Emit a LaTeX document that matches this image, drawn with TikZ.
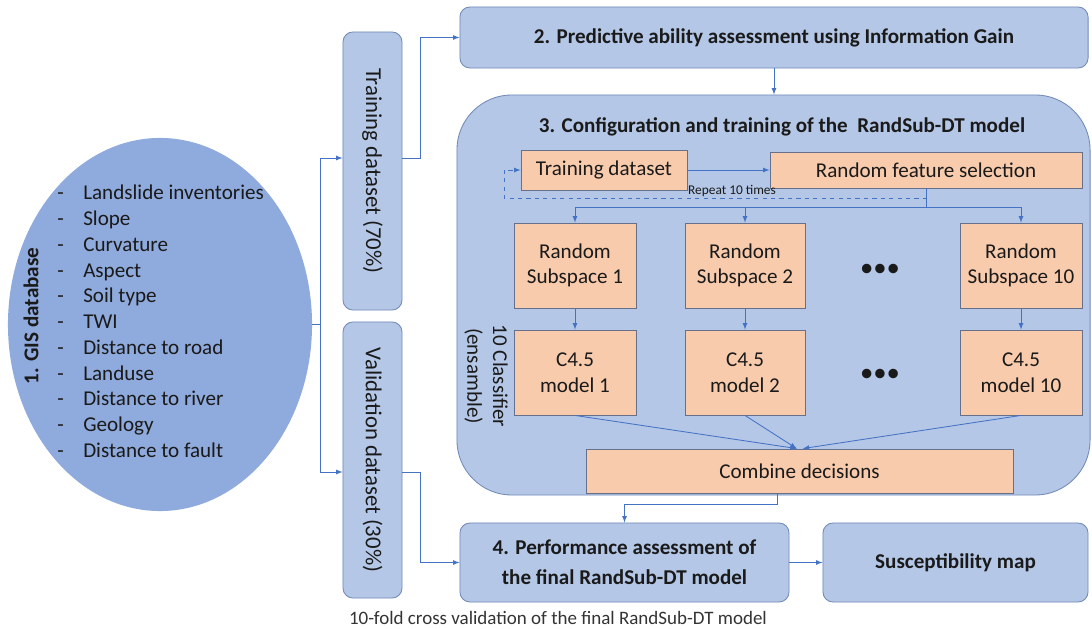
\documentclass[tikz,border=0pt]{standalone}
\usepackage{fontspec}
\setmainfont{Carlito}
\usetikzlibrary{shapes.geometric}
\definecolor{boxfill}{HTML}{B4C7E7}
\definecolor{gisfill}{HTML}{8FAADC}
\definecolor{stepfill}{HTML}{F8CBAD}
\definecolor{boxline}{HTML}{7089B5}
\definecolor{stepline}{HTML}{66708A}
\definecolor{flow}{HTML}{4472C4}
\definecolor{ink}{HTML}{1A1A1A}
\begin{document}
\begin{tikzpicture}[x=0.025cm,y=-0.025cm,>=latex,text=ink,font=\fontsize{15}{18.3}\selectfont]
\tikzset{
  phase/.style={draw=boxline,fill=boxfill,line width=0.6pt,rounded corners=0.25cm,align=center,font=\fontsize{15}{21}\selectfont\bfseries},
  split/.style={draw=boxline,fill=boxfill,line width=0.6pt,rounded corners=0.25cm,minimum width=1.475cm,font=\fontsize{16.2}{19}\selectfont},
  block/.style={draw=stepline,fill=stepfill,line width=0.6pt,align=center,minimum height=2.125cm},
  link/.style={draw=flow,line width=0.6pt}
}
\useasboundingbox (0,0) rectangle (1092,629);

\node[ellipse,fill=gisfill,minimum width=7.6cm,minimum height=9.325cm] (gis) at (160,324.5) {};
\node[rotate=90,font=\fontsize{15}{18}\selectfont\bfseries] (gisname) at (31,316) {1. GIS database};
\node[anchor=west,inner sep=0pt] (factors) at (57,323.5) {\begin{tabular}{@{}p{0.65cm}@{}l@{}}
 -&Landslide inventories\\ -&Slope\\ -&Curvature\\ -&Aspect\\ -&Soil type\\ -&TWI\\
 -&Distance to road\\ -&Landuse\\ -&Distance to river\\ -&Geology\\ -&Distance to fault
 \end{tabular}};

\node[split,minimum height=6.95cm] (train) at (372.5,171) {\rotatebox{-90}{Training dataset (70\%)}};
\node[split,minimum height=6.9cm] (valid) at (372.5,460) {\rotatebox{-90}{Validation dataset (30\%)}};

\node[phase,minimum width=15.7cm,minimum height=1.525cm] (pred) at (774,37.5) {2. Predictive ability assessment using Information Gain};
\node[phase,rounded corners=1.375cm,minimum width=15.825cm,minimum height=10cm] (conf) at (773.5,295) {};
\node[font=\fontsize{15}{18}\selectfont\bfseries] (conftitle) at (782,127) {3. Configuration and training of the \ RandSub-DT model};

\node[block,minimum width=4.15cm,minimum height=1cm] (tds) at (604,170) {Training dataset};
\node[block,minimum width=7.8cm,minimum height=0.9cm] (rfs) at (926,170) {Random feature selection};
\node[font=\fontsize{9.5}{11}\selectfont] (repeat) at (732,191) {Repeat 10 times};

\node[block,minimum width=3.05cm] (sub1) at (575,265.5) {Random\\Subspace 1};
\node[block,minimum width=3cm] (sub2) at (745,265.5) {Random\\Subspace 2};
\node[block,minimum width=3.05cm] (sub10) at (1021,265.5) {Random\\Subspace 10};
\node[block,minimum width=3.05cm] (mod1) at (575,372.5) {C4.5\\model 1};
\node[block,minimum width=3cm] (mod2) at (745,372.5) {C4.5\\model 2};
\node[block,minimum width=3.05cm] (mod10) at (1021,372.5) {C4.5\\model 10};
\node[font=\fontsize{19}{19}\selectfont] (dots1) at (880,270) {\textbullet\textbullet\textbullet};
\node[font=\fontsize{19}{19}\selectfont] (dots2) at (880,375) {\textbullet\textbullet\textbullet};
\node[rotate=-90,align=center] (ens) at (486,376) {10 Classifier\\(ensamble)};
\node[block,minimum width=10.675cm,minimum height=1.1cm] (comb) at (799.5,471) {Combine decisions};

\node[phase,minimum width=8.225cm,minimum height=1.975cm] (perf) at (624.5,562.5) {4. Performance assessment of\\the final RandSub-DT model};
\node[phase,minimum width=6.625cm,minimum height=1.975cm] (smap) at (955.5,562.5) {Susceptibility map};
\node[font=\fontsize{13.5}{16}\selectfont,text=black!80] (note) at (558,618) {10-fold cross validation of the final RandSub-DT model};

\coordinate (gisout) at (320,324.5);
\coordinate (fork) at (926,207);
\coordinate (loop) at (504,198);
\coordinate (joint) at (624.5,504);

\draw[link] (gis.east) -- (gisout);
\draw[link,->] (gisout) |- ([yshift=0.325cm]train.west);
\draw[link,->] (gisout) |- ([yshift=-0.3cm]valid.west);
\draw[link,->] ([yshift=0.325cm]train.east) -- ++(18,0) |- (pred.west);
\draw[link,->] ([yshift=-0.3cm]valid.east) -- ++(18,0) |- (perf.west);
\draw[link,->] (pred.south) -- (pred.south |- conf.north);
\draw[link,->] (tds) -- (rfs);
\draw[link,->,dashed] (rfs.south) |- (loop) |- (tds.west);
\draw[link] (rfs.south) -- (fork);
\draw[link,->] (fork) -| (sub1.north);
\draw[link,->] (fork) -| (sub2.north);
\draw[link,->] (fork) -| (sub10.north);
\draw[link,->] (sub1) -- (mod1);
\draw[link,->] (sub2) -- (mod2);
\draw[link,->] (sub10) -- (mod10);
\draw[link,->] (mod1.south) -- ([xshift=-0.07cm]comb.north);
\draw[link,->] (mod2.south) -- ([xshift=-0.07cm]comb.north);
\draw[link,->] (mod10.south) -- ([xshift=0.08cm]comb.north);
\draw[link,->] ([xshift=-0.56cm]comb.south) |- (joint) -- (perf.north);
\draw[link,->] (perf) -- (smap);
\end{tikzpicture}
\end{document}
